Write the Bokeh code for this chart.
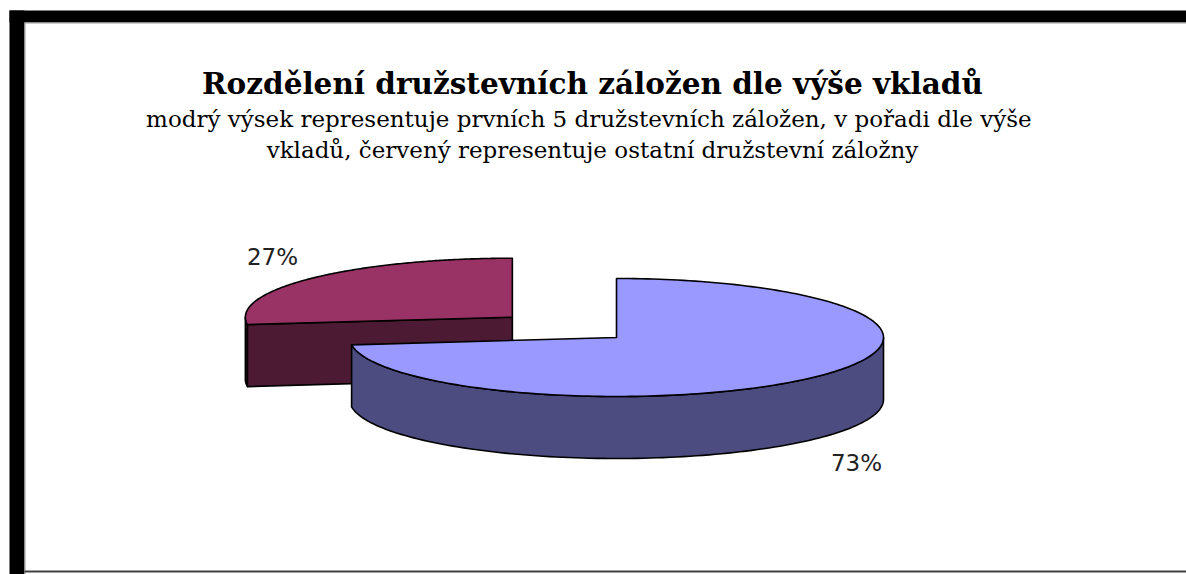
import numpy as np
from bokeh.plotting import figure
from bokeh.models import Range1d
from bokeh.core.properties import value
from bokeh.embed import file_html
from bokeh.resources import INLINE

# ---- data ----
categories = ["Prvních 5 družstevních záložen", "Ostatní družstevní záložny"]
shares = [73, 27]
pct_labels = [f"{v}%" for v in shares]

title_text = "Rozdělení družstevních záložen dle výše vkladů"
subtitle_lines = [
    "modrý výsek representuje prvních  5 družstevních záložen, v pořadi dle výše",
    "vkladů, červený representuje ostatní družstevní záložny",
]

# ---- style / layout ----
top_colors = ["#9999FF", "#993366"]
side_colors = ["#4C4C80", "#4C1A33"]
explode = [0.0, 0.52]
label_pos = [(856, 462), (272, 256)]

W, H = 1186, 574
CX, CY = 616, 337
RX, RY = 267, 59
DEPTH = 62
START = 90.0  # degrees, slices run clockwise

p = figure(width=W, height=H, x_range=Range1d(0, W), y_range=Range1d(H, 0),
           x_axis_type=None, y_axis_type=None, toolbar_location=None,
           output_backend="svg", min_border=0, outline_line_color=None,
           background_fill_color="white", border_fill_color="white")
p.grid.visible = False

# frame
p.quad(left=9, right=W, top=10, bottom=22, fill_color="black", line_color=None)
p.quad(left=9, right=24, top=10, bottom=H, fill_color="black", line_color=None)
p.quad(left=24, right=W, top=22, bottom=23, fill_color="#9a9a9a", line_color=None)
p.quad(left=24, right=25, top=22, bottom=H, fill_color="#9a9a9a", line_color=None)
p.quad(left=24, right=W, top=570, bottom=572, fill_color="#404040", line_color=None)


def pt(cx, cy, t):
    r = np.radians(t)
    return cx + RX * np.cos(r), cy - RY * np.sin(r)


def arc(cx, cy, t0, t1, n=120):
    ts = np.linspace(t0, t1, n)
    r = np.radians(ts)
    return list(cx + RX * np.cos(r)), list(cy - RY * np.sin(r))


# compute slices (math angles, counterclockwise lo..hi)
total = sum(shares)
slices = []
acc = 0.0
for i, v in enumerate(shares):
    hi = START - 360.0 * acc / total
    lo = START - 360.0 * (acc + v) / total
    acc += v
    mid = np.radians((lo + hi) / 2)
    cx = CX + RX * explode[i] * np.cos(mid)
    cy = CY - RY * explode[i] * np.sin(mid)
    slices.append(dict(i=i, lo=lo, hi=hi, cx=cx, cy=cy))

# back to front
for s in sorted(slices, key=lambda s: s["cy"]):
    i, lo, hi, cx, cy = s["i"], s["lo"], s["hi"], s["cx"], s["cy"]
    style = dict(line_color="black", line_width=1.6, line_join="round")
    # outer visible side (front half: sin < 0)
    for k in range(-2, 3):
        a0 = max(lo, -180 + 360 * k)
        a1 = min(hi, 0 + 360 * k)
        if a1 > a0:
            xs, ys = arc(cx, cy, a0, a1)
            bx = xs[::-1]
            by = [y + DEPTH for y in ys[::-1]]
            p.patch(xs + bx, ys + by, fill_color=side_colors[i], **style)
    # radial faces
    for ang, nrm in ((lo, lo - 90), (hi, hi + 90)):
        if np.sin(np.radians(nrm)) < -1e-6:
            ex, ey = pt(cx, cy, ang)
            p.patch([cx, ex, ex, cx], [cy, ey, ey + DEPTH, cy + DEPTH],
                    fill_color=side_colors[i], **style)
    # top face
    xs, ys = arc(cx, cy, lo, hi, 200)
    p.patch([cx] + xs, [cy] + ys, fill_color=top_colors[i], **style)

# percentage labels
p.text(x=[q[0] for q in label_pos], y=[q[1] for q in label_pos], text=pct_labels,
       text_font=value("DejaVu Sans"), text_font_size="23px", text_color="#222222",
       text_align="center", text_baseline="middle")

# titles
p.text(x=[592], y=[83], text=[title_text], text_font=value("DejaVu Serif"),
       text_font_style="bold", text_font_size="29.5px", text_color="black",
       text_align="center", text_baseline="alphabetic")
p.text(x=[592, 592], y=[118, 149], text=subtitle_lines, text_font=value("DejaVu Serif"),
       text_font_size="23px", text_color="black",
       text_align="center", text_baseline="alphabetic")

open("out.html", "w").write(file_html(p, INLINE))
